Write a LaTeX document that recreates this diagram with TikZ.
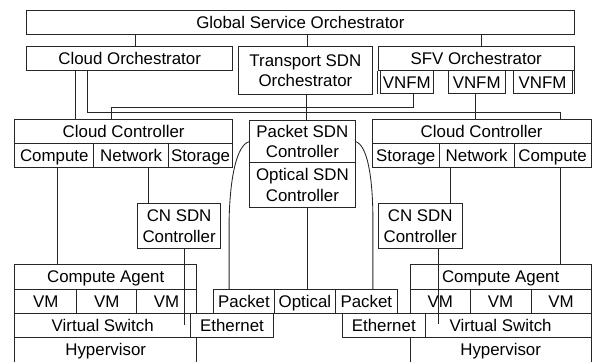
\documentclass[tikz,border=0pt]{standalone}
\usepackage{fontspec}
\setmainfont{Liberation Sans}
\newcommand\dfs{\fontsize{16.9}{20.5}\selectfont}
\tikzset{
  x=1pt, y=-1pt,
  every path/.style={line width=0.85pt, draw=black!85},
  box/.style={draw=black!85, fill=white, inner sep=0pt, anchor=north west, align=center, font=\dfs, line width=0.85pt},
  one/.style={text height=12pt, text depth=0pt},
  two/.style={},
}
% \bx[style]{name}{x1}{y1}{x2}{y2}{text}
\newcommand\bx[7][one]{\node[box,#1,minimum width={#5-#3},minimum height={#6-#4}] (#2) at (#3,#4) {#7};}
\begin{document}
\begin{tikzpicture}
\useasboundingbox (0,0) rectangle (595,361);
\fill[white] (0,0) rectangle (595,361);
% top level
\bx{gso}{26}{10}{574}{34}{Global Service Orchestrator}
\bx{co}{26}{46}{232}{70}{Cloud Orchestrator}
\bx[two]{tso}{238}{46}{372}{94}{Transport SDN\\Orchestrator}
\bx{sfv}{378}{46}{574}{70}{SFV Orchestrator}
\bx{vnfm1}{380}{70}{433}{93}{VNFM}
\bx{vnfm2}{448}{70}{505}{93}{VNFM}
\bx{vnfm3}{513}{70}{572}{93}{VNFM}
\draw (sfv.south west) -- (sfv.south west |- vnfm1.south);
\draw (sfv.south east) -- (sfv.south east |- vnfm3.south);
% controllers
\bx{lcc}{14}{118.5}{232}{142.5}{Cloud Controller}
\bx{lcomp}{14}{142.5}{93}{166.5}{Compute}
\bx{lnet}{93}{142.5}{168}{166.5}{Network}
\bx{lsto}{168}{142.5}{232}{166.5}{Storage}
\bx[two]{psdn}{249}{120}{355}{162}{Packet SDN\\Controller}
\bx[two]{osdn}{249}{162}{355}{207}{Optical SDN\\Controller}
\bx{rcc}{372}{118.5}{591}{142.5}{Cloud Controller}
\bx{rsto}{372}{142.5}{439}{166.5}{Storage}
\bx{rnet}{439}{142.5}{514}{166.5}{Network}
\bx{rcomp}{514}{142.5}{591}{166.5}{Compute}
\bx[two]{lcn}{137}{203}{220}{248}{CN SDN\\Controller}
\bx[two]{rcn}{378}{203}{462}{248}{CN SDN\\Controller}
% left host
\bx{lca}{14}{264}{196}{289}{Compute Agent}
\bx{lvm1}{14}{289}{76}{313}{VM}
\bx{lvm2}{76}{289}{136}{313}{VM}
\bx{lvm3}{136}{289}{196}{313}{VM}
\bx{lvs}{14}{313}{190}{337}{Virtual Switch}
\bx{lhyp}{14}{337}{196}{362}{Hypervisor}
\bx{leth}{190}{313}{273}{337}{Ethernet}
% right host
\bx{rca}{410}{264}{591}{289}{Compute Agent}
\bx{rvm1}{410}{289}{470}{313}{VM}
\bx{rvm2}{470}{289}{531}{313}{VM}
\bx{rvm3}{531}{289}{591}{313}{VM}
\bx{rvs}{410}{313}{591}{337}{Virtual Switch}
\bx{rhyp}{410}{337}{591}{362}{Hypervisor}
\bx{reth}{342}{313}{425}{337}{Ethernet}
% transport ports
\bx{pk1}{213}{289}{274}{313}{Packet}
\bx{opt}{274}{289}{335}{313}{Optical}
\bx{pk2}{335}{289}{397}{313}{Packet}
% connectors
\draw (gso.south -| 135,0) -- (co.north -| 135,0);
\draw (gso.south -| 307,0) -- (tso.north -| 307,0);
\draw (gso.south -| 482,0) -- (sfv.north -| 482,0);
\draw (co.south -| 75,0) -- (lcc.north -| 75,0);
\draw (co.south -| 87,0) -- (87,112) -- (561,112) -- (rcc.north -| 561,0);
\draw (vnfm1.south -| 414,0) -- (414,107) -- (111,107) -- (lcc.north -| 111,0);
\draw (vnfm2.south -| 476,0) -- (rcc.north -| 476,0);
\draw (tso.south -| 306,0) -- (psdn.north -| 306,0);
\draw (lcomp.south -| 57,0) -- (lca.north -| 57,0);
\draw (lnet.south -| 148,0) -- (lcn.north -| 148,0);
\coordinate (lend) at (184,325);
\draw (lcn.south -| 184,0) -- (lend);
\draw (rnet.south -| 451,0) -- (rcn.north -| 451,0);
\coordinate (rend) at (439,324);
\draw (rcn.south -| 439,0) -- (rend);
\draw (rcomp.south -| 561,0) -- (rca.north -| 561,0);
\draw (osdn.south -| 307,0) -- (opt.north -| 307,0);
\draw (psdn.west) .. controls (237,145) and (230,175) .. (229,220) -- (pk1.north -| 229,0);
\draw (psdn.east) .. controls (367,145) and (373,175) .. (373,220) -- (pk2.north -| 373,0);
\end{tikzpicture}
\end{document}
